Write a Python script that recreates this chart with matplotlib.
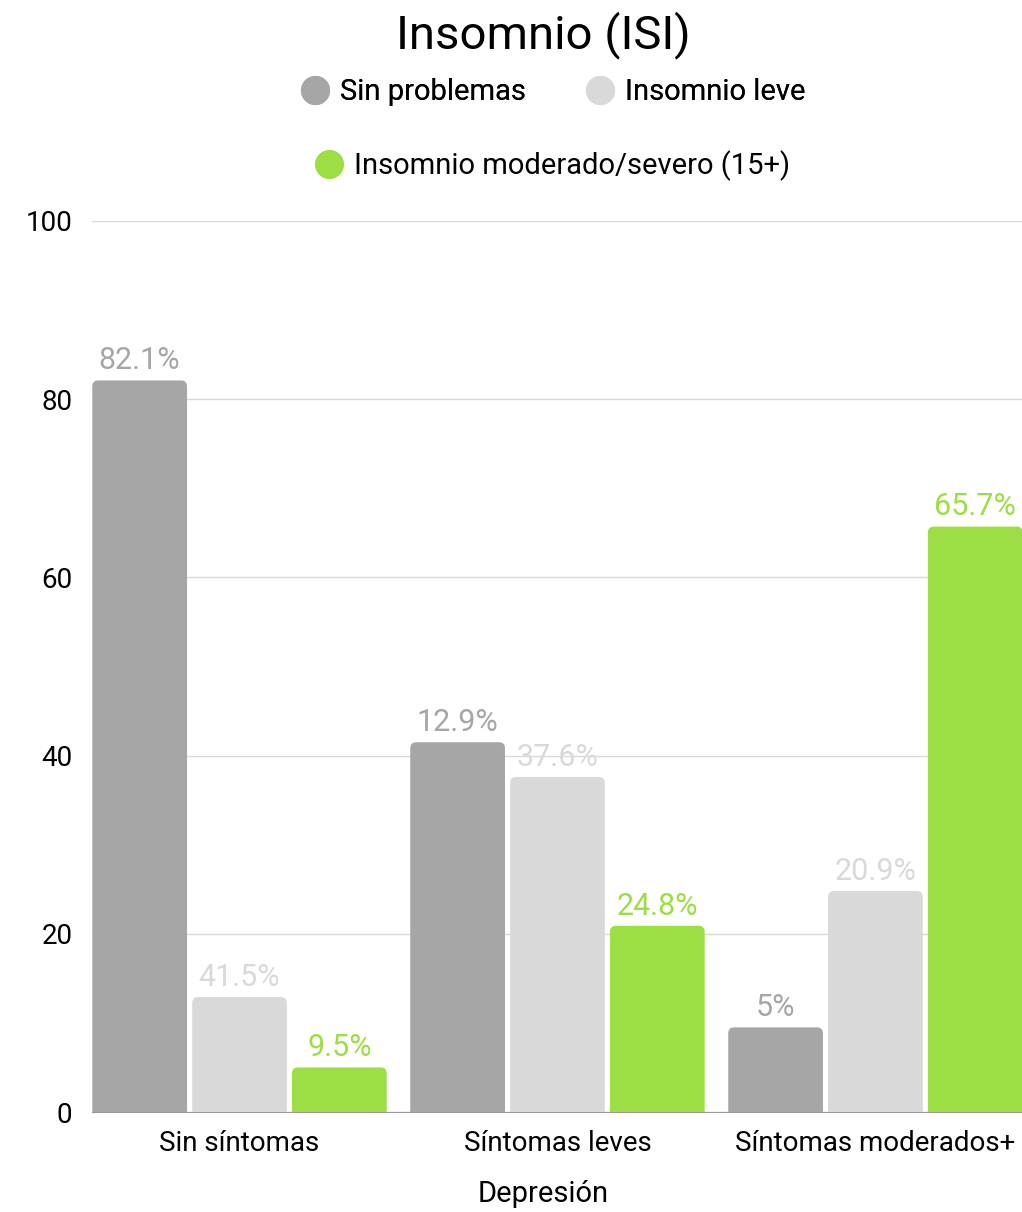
import matplotlib
matplotlib.use("Agg")
import matplotlib.pyplot as plt
from matplotlib.patches import FancyBboxPatch
import numpy as np

# categories on the x axis (Depresión)
categories = ["Sin síntomas", "Síntomas leves", "Síntomas moderados+"]
series = ["Sin problemas", "Insomnio leve", "Insomnio moderado/severo (15+)"]
colors = ["#a6a6a6", "#d9d9d9", "#9cde44"]

# bar heights as drawn in the source chart
h_sin = [82.1, 41.5, 9.5]
h_leve = [12.9, 37.6, 24.8]
h_mod = [5.0, 20.9, 65.7]

# labels as printed above the bars (they don't follow the heights)
lab_sin = ["82.1%", "12.9%", "5%"]
lab_leve = ["41.5%", "37.6%", "20.9%"]
lab_mod = ["9.5%", "24.8%", "65.7%"]

heights = [h_sin, h_leve, h_mod]
labels = [lab_sin, lab_leve, lab_mod]

main_font = "Roboto"

fig = plt.figure(figsize=(10.22, 12.12), dpi=100)
ax = fig.add_axes([0.09, 0.0825, 0.91, 0.7352])

x = np.arange(len(categories))
step = 0.314
width = 0.298

ax.set_xlim(-0.464, 2.461)
ax.set_ylim(0, 100)

# px per data unit, used to keep the corner rounding circular
px_x = 0.91 * 1022 / (2.461 + 0.464)
px_y = 0.7352 * 1212 / 100.0

for i in range(3):
    bars = ax.bar(x + (i - 1) * step, heights[i], width, color=colors[i],
                  label=series[i], zorder=3)
    for rect, txt in zip(bars, labels[i]):
        rect.set_visible(False)
        bx, by = rect.get_x(), rect.get_y()
        bw, bh = rect.get_width(), rect.get_height()
        rsize = 6.0 / px_x
        patch = FancyBboxPatch((bx, by - 3), bw, bh + 3,
                               boxstyle="round,pad=0,rounding_size=%f" % rsize,
                               mutation_aspect=px_x / px_y,
                               facecolor=colors[i], edgecolor="none", zorder=3)
        ax.add_patch(patch)
        ax.annotate(txt, (bx + bw / 2, bh), xytext=(0, 8),
                    textcoords="offset points", ha="center", va="baseline",
                    fontsize=22, color=colors[i], family=main_font)

ax.set_yticks([0, 20, 40, 60, 80, 100])
ax.yaxis.grid(True, color="#d9d9d9", linewidth=1, zorder=0)
ax.tick_params(axis="y", length=0, pad=14, labelsize=20)
ax.tick_params(axis="x", length=0, pad=13, labelsize=20)
ax.set_xticks(x)
ax.set_xticklabels(categories)
for lbl in ax.get_xticklabels() + ax.get_yticklabels():
    lbl.set_family(main_font)
for s in ["left", "right", "top"]:
    ax.spines[s].set_visible(False)
ax.spines["bottom"].set_color("#999999")
ax.spines["bottom"].set_zorder(2)

ax.set_xlabel("Depresión", fontsize=21, family=main_font)
ax.xaxis.set_label_coords(0.485, -0.076)

fig.text(0.532, 0.971, "Insomnio (ISI)", ha="center", va="center",
         fontsize=34, family=main_font)

handles = [plt.Line2D([], [], marker="o", linestyle="none", markersize=21,
                      markerfacecolor=c, markeredgecolor="none") for c in colors]
leg1 = fig.legend(handles[:2], series[:2], loc="center", ncol=2,
                  bbox_to_anchor=(0.54, 0.924), frameon=False,
                  prop={"family": main_font, "size": 21},
                  handletextpad=0.3, columnspacing=2.0, handlelength=1.1)
fig.add_artist(leg1)
fig.legend(handles[2:], series[2:], loc="center",
           bbox_to_anchor=(0.54, 0.863), frameon=False,
           prop={"family": main_font, "size": 21},
           handletextpad=0.3, handlelength=1.1)

fig.savefig("out.png", dpi=100)
